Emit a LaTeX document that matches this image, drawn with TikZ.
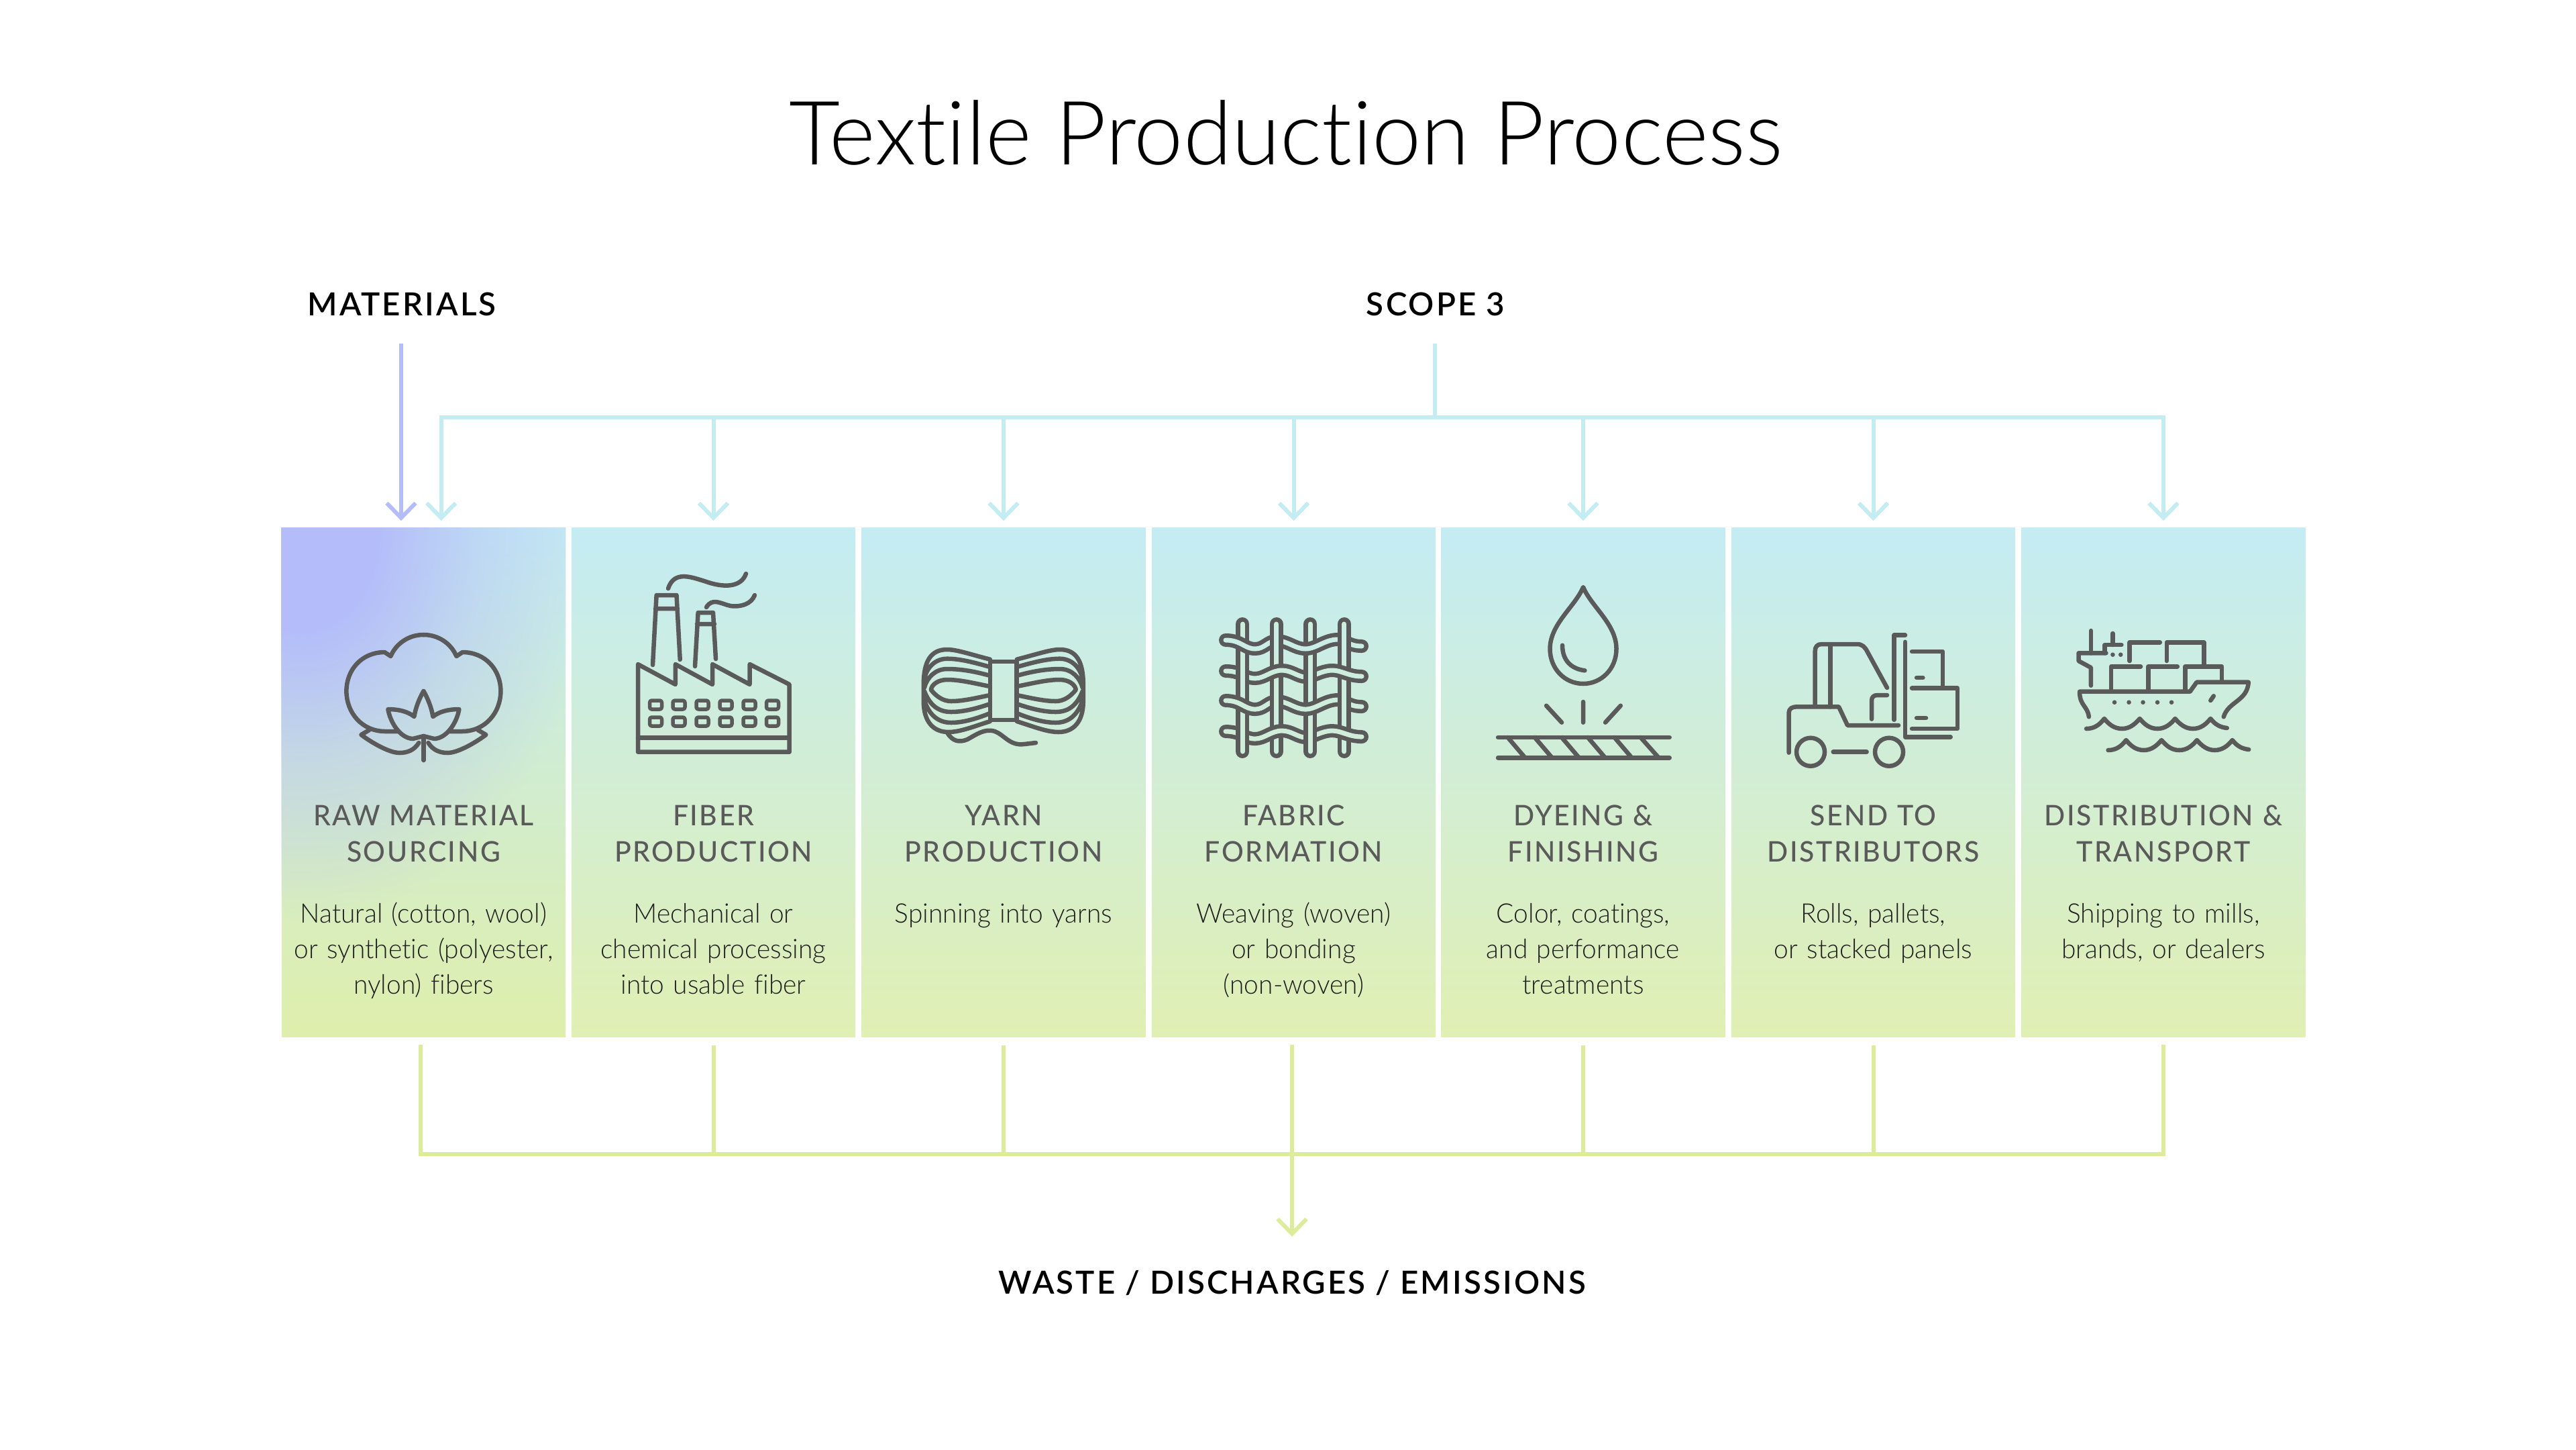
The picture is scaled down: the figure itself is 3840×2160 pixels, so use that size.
\documentclass[tikz,border=0pt]{standalone}
\usepackage{fontspec}
\usetikzlibrary{arrows.meta,fadings}
\setmainfont{Lato}
\newfontfamily\fontTitolo[FakeStretch=0.994,Ligatures=NoCommon]{Lato Light}
\newfontfamily\fontLuce[FakeStretch=0.97,Ligatures=NoCommon]{Lato Light}
\newfontfamily\fontTesta[LetterSpace=6,FakeStretch=0.97,Ligatures=NoCommon]{Lato Medium}
\newfontfamily\fontForte[LetterSpace=6.5,FakeStretch=1.0]{Lato Semibold}
\definecolor{viola}{HTML}{B4BCFA}
\definecolor{cielo}{HTML}{C4ECF3}
\definecolor{prato}{HTML}{E0EFB3}
\definecolor{erba}{HTML}{DCEC9B}
\definecolor{grigio}{HTML}{5A5A5A}
\pgfdeclareradialshading{aloneBase}{\pgfpointorigin}{color(0bp)=(pgftransparent!0); color(6bp)=(pgftransparent!0); color(15bp)=(pgftransparent!60); color(25bp)=(pgftransparent!100); color(50bp)=(pgftransparent!100)}
\pgfdeclarefading{alone}{\pgfuseshading{aloneBase}}
\begin{document}
\begin{tikzpicture}[
	x=0.01cm, y=-0.01cm,
	>={Straight Barb[length=0.22cm, width=0.43cm]},
	pannello/.style={minimum width=4.23cm, minimum height=7.58cm, inner sep=0pt, top color=cielo, bottom color=prato},
	attacco/.style={line width=0.06cm, draw=#1},
	testata/.style={anchor=north, inner sep=0pt, text width=4.23cm, align=center, text=grigio, execute at begin node=\strut, font=\fontTesta\fontsize{12}{15.1}\selectfont},
	dicitura/.style={anchor=north, inner sep=0pt, text width=4.23cm, align=center, text=black!88, execute at begin node=\strut, font=\fontLuce\fontsize{11.4}{15.1}\selectfont},
	voce/.style={anchor=base, inner sep=0pt, font=\fontForte\fontsize{13.5}{16}\selectfont},
	icona/.style={draw=grigio, line width=0.065cm, line cap=round, line join=round},
	filo/.style={icona, double=#1, double distance=0.07cm},
	filoTagliato/.style={filo=#1, line cap=butt}]
	
	\path[use as bounding box, fill=white] (0,0) rectangle (3840,2160);
	\def\yT{1193}    %% prima riga delle testate
	\def\yD{1337.5}  %% prima riga delle diciture
	\def\yP{1166}    %% centro dei pannelli
	
	%% --- titolo ---
	\node[anchor=base, inner sep=0pt, font=\fontTitolo\fontsize{37.6}{44}\selectfont] (titolo) at (1917,245) {Textile Production Process};
	
	%% --- pannelli ---
	\node[pannello, bottom color=prato!70!erba] (p1) at (631.5,\yP) {};
	\node[pannello] (p2) at (1063.5,\yP) {};
	\node[pannello] (p3) at (1496,\yP) {};
	\node[pannello] (p4) at (1928.5,\yP) {};
	\node[pannello] (p5) at (2360,\yP) {};
	\node[pannello] (p6) at (2792.5,\yP) {};
	\node[pannello] (p7) at (3225,\yP) {};
	%% macchia viola del primo pannello
	\begin{scope}
		\clip (p1.north west) rectangle (p1.south east);
		\fill[viola, path fading=alone] (450,790) ellipse (440 and 580);
	\end{scope}
	
	%% --- voci in alto e in basso ---
	\node[voce] (materiali) at (599,470) {MATERIALS};
	\node[voce] (ambito) at (2140,470) {SCOPE 3};
	\node[voce] (scarti) at (1926,1928) {WASTE / DISCHARGES / EMISSIONS};
	
	%% --- punti liberi dei collegamenti ---
	\coordinate (m0) at (598,512);
	\coordinate (s0) at (2139,512);
	\coordinate (s1) at (2139,622);
	\coordinate (e1) at (657.7,622);
	\coordinate (u1) at (627,1557);
	\coordinate (b1) at (627,1720);
	\coordinate (b7) at (3225,1720);
	\coordinate (u7) at (3225,1557);
	\coordinate (b4) at (1926,1720);
	\coordinate (f4) at (1926,1843);
	
	%% --- frecce: materiali e scope ---
	\draw[attacco=viola, ->, shorten >=0.1cm] (m0) -- (m0 |- p1.north);
	\draw[attacco=cielo] (s0) -- (s1);
	\draw[attacco=cielo, ->, shorten >=0.1cm] (s1) -| (e1 |- p1.north);
	\draw[attacco=cielo, ->, shorten >=0.1cm] (s1) -| (p2.north);
	\draw[attacco=cielo, ->, shorten >=0.1cm] (s1) -| (p3.north);
	\draw[attacco=cielo, ->, shorten >=0.1cm] (s1) -| (p4.north);
	\draw[attacco=cielo, ->, shorten >=0.1cm] (s1) -| (p5.north);
	\draw[attacco=cielo, ->, shorten >=0.1cm] (s1) -| (p6.north);
	\draw[attacco=cielo, ->, shorten >=0.1cm] (s1) -| (p7.north);
	
	%% --- raccolta in basso ---
	\draw[attacco=erba] (u1) -- (b1) -- (b7) -- (u7);
	\draw[attacco=erba, shorten <=0.12cm] (p2.south) -- (p2.south |- b1);
	\draw[attacco=erba, shorten <=0.12cm] (p3.south) -- (p3.south |- b1);
	\draw[attacco=erba, shorten <=0.12cm] (p5.south) -- (p5.south |- b1);
	\draw[attacco=erba, shorten <=0.12cm] (p6.south) -- (p6.south |- b1);
	\draw[attacco=erba] (b4 |- u1) -- (b4);
	\draw[attacco=erba, ->] (b4) -- (f4);
	
	%% --- testi dei pannelli ---
	\node[testata] (t1) at (631.5,\yT) {RAW MATERIAL\\SOURCING};
	\node[testata] (t2) at (1063.5,\yT) {FIBER\\PRODUCTION};
	\node[testata] (t3) at (1496,\yT) {YARN\\PRODUCTION};
	\node[testata] (t4) at (1928.5,\yT) {FABRIC\\FORMATION};
	\node[testata] (t5) at (2360,\yT) {DYEING \&\\FINISHING};
	\node[testata] (t6) at (2792.5,\yT) {SEND TO\\DISTRIBUTORS};
	\node[testata] (t7) at (3225,\yT) {DISTRIBUTION \&\\TRANSPORT};
	\node[dicitura] (d1) at (631.5,\yD) {Natural (cotton, wool)\\or synthetic (polyester,\\nylon) fibers};
	\node[dicitura] (d2) at (1063.5,\yD) {Mechanical or\\chemical processing\\into usable fiber};
	\node[dicitura] (d3) at (1496,\yD) {Spinning into yarns};
	\node[dicitura] (d4) at (1928.5,\yD) {Weaving (woven)\\or bonding\\(non-woven)};
	\node[dicitura] (d5) at (2360,\yD) {Color, coatings,\\and performance\\treatments};
	\node[dicitura] (d6) at (2792.5,\yD) {Rolls, pallets,\\or stacked panels};
	\node[dicitura] (d7) at (3225,\yD) {Shipping to mills,\\brands, or dealers};
	
	%% --- icona cotone (metà sinistra, poi specchiata) ---
	\def\batuffolo{
		(-39,1090) -- (-57,1090) .. controls (-92,1090) and (-115,1062) .. (-115,1030)
		.. controls (-115,998) and (-92,972) .. (-58,972) -- (-49,978)
		.. controls (-41,959) and (-22,946) .. (0,946)
		(0,1030) .. controls (-6,1040) and (-12,1055) .. (-14,1068)
		.. controls (-24,1060) and (-38,1057) .. (-53,1057)
		.. controls (-50,1075) and (-36,1100) .. (-16,1101) -- (0,1097)
		(-7,1107) .. controls (-14,1118) and (-24,1122) .. (-36,1122)
		.. controls (-52,1122) and (-80,1105) .. (-93,1095) -- (-81,1088)}
	\draw[icona, shift={(631.4,0)}] \batuffolo;
	\draw[icona, shift={(631.4,0)}, xscale=-1] \batuffolo;
	\draw[icona] (631.4,1097) -- (631.4,1133);
	
	%% --- icona fabbrica ---
	\draw[icona] (951,1120.7) -- (951,990) -- (1006.8,1020) -- (1006.8,990) -- (1062,1020) -- (1062,990)
		-- (1117.6,1020) -- (1117.6,990) -- (1176.7,1020) -- (1176.7,1120.7) -- cycle;
	\draw[icona] (951,1099.3) -- (1176.7,1099.3);
	\draw[icona] (973,991) -- (978.6,887) -- (1008.5,887) -- (1013.7,983) (977,907) -- (1010,907);
	\draw[icona] (1036,993) -- (1040.6,913) -- (1063,913) -- (1067,982) (1039,930) -- (1065,930);
	\draw[icona] (996,877) .. controls (1005,850) and (1030,860) .. (1050,866) .. controls (1080,877) and (1105,875) .. (1112,855);
	\draw[icona] (1053,905) .. controls (1062,890) and (1075,900) .. (1089,903) .. controls (1105,905) and (1120,900) .. (1125,887);
	\draw[icona, line width=0.055cm, rounded corners=0.03cm]
		(968.5,1044) rectangle +(18,13) (1003,1044) rectangle +(18,13) (1038,1044) rectangle +(18,13)
		(1073,1044) rectangle +(18,13) (1108,1044) rectangle +(18,13) (1142.5,1044) rectangle +(18,13)
		(968.5,1069) rectangle +(18,13) (1003,1069) rectangle +(18,13) (1038,1069) rectangle +(18,13)
		(1073,1069) rectangle +(18,13) (1108,1069) rectangle +(18,13) (1142.5,1069) rectangle +(18,13);
	
	%% --- icona matassa (metà sinistra, poi specchiata) ---
	\def\matassa{
		(-20,982.7) .. controls (-50,975) and (-70,968) .. (-84,968) .. controls (-108,968) and (-119,985) .. (-119,1020)
		-- (-119,1045) .. controls (-119,1075) and (-105,1091) .. (-82,1091) .. controls (-65,1091) and (-45,1083) .. (-20,1075)
		(-20,994) .. controls (-45,987) and (-65,981.7) .. (-84,981.7) .. controls (-105,981.7) and (-119,1000) .. (-119,1022)
		(-119,1040) .. controls (-113,1062) and (-100,1077) .. (-78,1077) .. controls (-60,1077) and (-40,1071) .. (-20,1063)
		(-20,1007) .. controls (-45,1000) and (-65,997) .. (-84,997) .. controls (-102,997) and (-114,1010) .. (-118,1025)
		(-118,1030) .. controls (-110,1050) and (-98,1061) .. (-78,1061) .. controls (-60,1061) and (-40,1056) .. (-20,1049)
		(-20,1023) .. controls (-45,1018) and (-65,1013) .. (-84,1013) .. controls (-97,1013) and (-107,1020) .. (-108,1028)
		.. controls (-100,1038) and (-90,1045) .. (-78,1045) .. controls (-60,1045) and (-40,1040) .. (-20,1036)}
	\draw[icona, shift={(1495.8,0)}] \matassa;
	\draw[icona, shift={(1495.8,0)}, xscale=-1] \matassa;
	\draw[icona] (1476,986) rectangle (1515.6,1073);
	\draw[icona] (1412,1092) .. controls (1420,1105) and (1430,1107) .. (1442,1102) .. controls (1455,1095) and (1468,1085) .. (1483,1090)
		.. controls (1497,1095) and (1505,1112) .. (1527,1109) -- (1544,1107);
	
	%% --- icona trama: bacchette, poi fili, poi tratti delle bacchette sopra i fili ---
	\draw[filo=cielo!69!prato] (1852.2,930) -- (1852.2,1120);
	\draw[filo=cielo!69!prato] (1902.8,930) -- (1902.8,1120);
	\draw[filo=cielo!69!prato] (1953.3,930) -- (1953.3,1120);
	\draw[filo=cielo!69!prato] (2003.8,930) -- (2003.8,1120);
	\def\filoA{(1827,954) .. controls (1850,954) and (1855,967) .. (1871,967) .. controls (1885,967) and (1890,955) .. (1903,955)
		.. controls (1920,955) and (1930,967) .. (1946,967) .. controls (1962,967) and (1975,953) .. (1994,953)
		.. controls (2005,953) and (2010,963) .. (2030,963)}
	\def\filoB{(1827,1000) .. controls (1850,1000) and (1855,1011) .. (1871,1011) .. controls (1885,1011) and (1895,999) .. (1911,999)
		.. controls (1925,999) and (1935,1009) .. (1946,1009) .. controls (1958,1009) and (1970,999) .. (1986,999)
		.. controls (2000,999) and (2010,1008) .. (2030,1008)}
	\draw[filo=cielo!77!prato] \filoA;
	\draw[filo=cielo!71!prato] \filoB;
	\draw[filo=cielo!65!prato, yshift=0.9cm*-1] \filoA;
	\draw[filo=cielo!59!prato, yshift=0.9cm*-1] \filoB;
	\draw[filoTagliato=cielo!77!prato] (1902.8,933) -- (1902.8,977);
	\draw[filoTagliato=cielo!77!prato] (2003.8,935) -- (2003.8,979);
	\draw[filoTagliato=cielo!65!prato] (1902.8,1023) -- (1902.8,1067);
	\draw[filoTagliato=cielo!65!prato] (2003.8,1025) -- (2003.8,1069);
	\draw[filoTagliato=cielo!71!prato] (1852.2,984) -- (1852.2,1028);
	\draw[filoTagliato=cielo!71!prato] (1953.3,987) -- (1953.3,1031);
	\draw[filoTagliato=cielo!59!prato] (1852.2,1074) -- (1852.2,1118);
	\draw[filoTagliato=cielo!59!prato] (1953.3,1077) -- (1953.3,1118);
	
	%% --- icona goccia ---
	\draw[icona] (2360,875) .. controls (2372,904) and (2409.5,930) .. (2409.5,967) .. controls (2409.5,997) and (2387,1019) .. (2360,1019)
		.. controls (2333,1019) and (2310.5,997) .. (2310.5,967) .. controls (2310.5,930) and (2348,904) .. cycle;
	\draw[icona] (2329,961.7) .. controls (2329,985) and (2343,997) .. (2362.4,999.3);
	\draw[icona] (2360,1046) -- (2360,1076.7) (2305,1051.7) -- (2328,1076.7) (2415.8,1051.7) -- (2393,1076.7);
	\draw[icona] (2233,1099) -- (2488.7,1099) (2233,1129.3) -- (2488.7,1129.3);
	\draw[icona] (2247.6,1099) -- (2273.4,1129.3) (2287.8,1099) -- (2313.6,1129.3) (2328,1099) -- (2353.8,1129.3)
		(2367,1099) -- (2392.8,1129.3) (2406.6,1099) -- (2432.4,1129.3) (2445.6,1099) -- (2472.6,1129.3);
	
	%% --- icona carrello ---
	\draw[icona] (2666.6,1121.7) -- (2666.6,1062) .. controls (2666.6,1056) and (2672,1053.3) .. (2678,1053.3) -- (2741,1053.3) -- (2754,1081) -- (2830,1081);
	\draw[icona] (2705.7,1051.7) -- (2705.7,970) .. controls (2705.7,964) and (2709,960) .. (2715.4,960) -- (2768,960)
		.. controls (2776,960) and (2780,964) .. (2784,972) -- (2813,1025);
	\draw[icona] (2728.6,963) -- (2728.6,1053.3);
	\draw[icona] (2699,1120.7) circle (21);
	\draw[icona] (2816,1120.7) circle (21);
	\draw[icona] (2732.7,1120.7) -- (2782.6,1120.7);
	\draw[icona] (2790,1071.7) -- (2790,1044) .. controls (2790,1039) and (2793,1036) .. (2798.7,1036) -- (2813,1036);
	\draw[icona] (2823.4,1072.7) -- (2823.4,946.7) -- (2840,946.7);
	\draw[icona] (2840,956.7) -- (2840,1098.3) -- (2907.7,1098.3);
	\draw[icona] (2850,971) -- (2896,971) -- (2896,1025);
	\draw[icona] (2850,1025.7) -- (2918,1025.7) -- (2918,1086) -- (2850,1086);
	\draw[icona] (2857,1010) -- (2866.4,1010) (2857,1070) -- (2871,1070);
	
	%% --- icona nave ---
	\draw[icona] (3116.9,940) -- (3116.9,973.3);
	\draw[icona] (3139.4,973.3) -- (3098.5,973.3) -- (3098.5,985) -- (3116.9,995) -- (3116.9,1021.7);
	\draw[icona] (3137.5,973.3) -- (3137.5,961) -- (3162.4,961) (3149.4,944) -- (3149.4,961);
	\fill[grigio] (3149.4,975.7) circle (3.3) (3161.2,975.7) circle (3.3);
	\draw[icona] (3174.6,985) -- (3174.6,957.3) -- (3219.8,957.3);
	\draw[icona] (3229.8,985) -- (3229.8,957.3) -- (3285.2,957.3) -- (3285.2,991.7);
	\draw[icona] (3147,1028) -- (3147,993.3) -- (3191,993.3);
	\draw[icona] (3202.2,1028) -- (3202.2,993.3) -- (3245.8,993.3);
	\draw[icona] (3257.3,1028) -- (3257.3,993.3) -- (3312,993.3) -- (3312,1016.7);
	\draw[icona] (3113.8,1068.3) .. controls (3112,1052) and (3100,1052) .. (3100,1030.7) -- (3264.6,1030.7) -- (3274.5,1016.7) -- (3351.8,1016.7)
		.. controls (3350,1045) and (3322,1045) .. (3314.7,1068.3);
	\fill[grigio] (3152,1046.7) circle (3.3) (3173.5,1046.7) circle (3.3) (3194.5,1046.7) circle (3.3) (3216,1046.7) circle (3.3) (3237,1046.7) circle (3.3);
	\draw[icona] (3295.2,1044) -- (3299.8,1037.3);
	\def\onda{(3110,1086) .. controls (3122,1086) and (3130,1080) .. (3136.8,1071) .. controls (3144,1080) and (3152,1086) .. (3163.2,1086)
		.. controls (3174,1086) and (3182,1080) .. (3189.6,1071) .. controls (3197,1080) and (3205,1086) .. (3216,1086)
		.. controls (3227,1086) and (3235,1080) .. (3242.4,1071) .. controls (3250,1080) and (3258,1086) .. (3268.8,1086)
		.. controls (3280,1086) and (3288,1080) .. (3295.2,1071) .. controls (3302,1080) and (3310,1084) .. (3319.7,1085)}
	\draw[icona] \onda;
	\draw[icona, shift={(32.5,32)}] \onda;
	
\end{tikzpicture}
\end{document}
